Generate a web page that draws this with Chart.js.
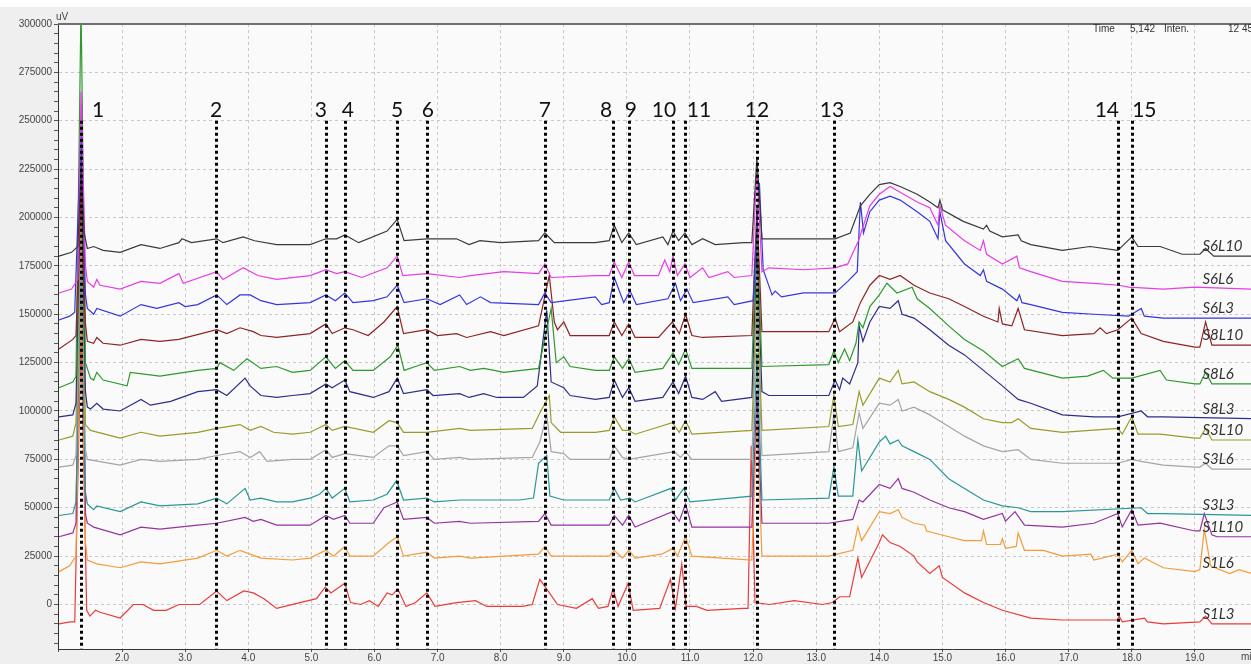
<!DOCTYPE html>
<html>
<head>
<meta charset="utf-8">
<script src="https://cdn.jsdelivr.net/npm/chart.js@4.4.1/dist/chart.umd.min.js"></script>
<style>
  html, body { margin: 0; padding: 0; background: #efefef; }
  #wrap { width: 1251px; height: 664px; }
</style>
</head>
<body>
<div id="wrap"><canvas id="grafica" width="1251" height="664"></canvas></div>
<script>
// ==============================
// DATA (time in min, signal in kuV)
// ==============================
const s6l10 = [[1.0,180],[1.2,182],[1.3,185],[1.35,225],[1.4,192],[1.45,184],[1.55,185],[1.7,183],[1.97,182],[2.3,186],[2.6,184],[2.9,187],[2.95,189],[3.1,187],[3.5,189],[3.6,187],[3.92,190],[4.1,188],[4.45,186],[4.98,186],[5.23,189],[5.4,189],[5.53,191],[5.75,187],[6.2,193],[6.36,199],[6.47,188],[6.83,189],[7.3,189],[7.5,186],[7.67,188],[8.0,187],[8.6,188],[8.7,192],[8.85,187],[9.26,187],[9.5,187],[9.72,188],[9.8,196],[9.92,187],[10.03,192],[10.15,186],[10.57,190],[10.65,186],[10.73,193],[10.82,188],[10.92,192],[11.03,186],[11.2,189],[11.4,186],[11.85,187],[11.98,187],[12.06,231],[12.14,189],[12.5,189],[13.0,189],[13.3,189],[13.54,192],[13.7,206],[13.85,212],[14.0,217],[14.17,218],[14.33,216],[14.6,212],[14.8,208],[14.93,205],[14.96,209],[15.0,204],[15.33,198],[15.65,194],[15.7,196],[15.75,193],[15.95,190],[16.2,191],[16.25,188],[16.4,186],[16.9,183],[17.34,185],[17.78,183],[18.0,190],[18.1,185],[18.45,185],[18.8,181],[19.08,181],[19.17,184],[19.3,180],[19.9,180]];
const s6l6 = [[1.0,161],[1.2,163],[1.3,168],[1.35,265],[1.42,175],[1.45,167],[1.55,164],[1.6,168],[1.65,165],[1.97,163],[2.3,167],[2.6,166],[2.9,171],[2.97,166],[3.5,172],[3.6,168],[3.92,174],[4.15,170],[4.45,168],[4.98,170],[5.23,173],[5.4,171],[5.53,172],[5.8,169],[6.2,174],[6.36,180],[6.45,170],[6.83,171],[7.35,169],[7.52,170],[8.05,172],[8.6,171],[8.7,176],[8.8,169],[9.5,170],[9.72,170],[9.8,177],[9.92,169],[10.03,177],[10.12,170],[10.5,170],[10.6,178],[10.68,172],[10.73,180],[10.8,170],[10.92,176],[11.0,169],[11.2,174],[11.3,169],[11.6,172],[11.7,169],[11.98,170],[12.06,225],[12.14,172],[12.25,174],[12.8,173],[13.3,174],[13.5,176],[13.67,188],[13.85,206],[14.0,212],[14.17,216],[14.33,213],[14.6,208],[14.8,205],[14.93,196],[14.96,206],[15.05,196],[15.35,188],[15.6,183],[15.65,188],[15.7,181],[15.95,176],[16.18,180],[16.22,174],[16.4,172],[16.9,167],[17.4,166],[17.8,165],[17.95,164],[18.5,163],[19.0,164],[19.9,163]];
const s6l3 = [[1.0,147],[1.17,149],[1.25,151],[1.35,248],[1.42,160],[1.45,153],[1.55,150],[1.6,153],[1.97,149],[2.3,155],[2.55,153],[2.9,156],[3.0,154],[3.2,155],[3.5,160],[3.66,155],[3.87,160],[4.03,160],[4.2,157],[4.45,155],[4.98,156],[5.23,160],[5.38,157],[5.53,161],[5.66,156],[5.98,157],[6.2,159],[6.36,165],[6.47,156],[6.83,158],[7.04,155],[7.35,160],[7.46,155],[7.68,159],[7.84,156],[8.6,155],[8.7,161],[8.8,156],[9.5,159],[9.6,155],[9.72,156],[9.8,169],[9.95,156],[10.05,162],[10.15,155],[10.65,158],[10.77,166],[10.85,157],[10.95,163],[11.05,156],[11.6,159],[11.7,155],[12.0,157],[12.1,218],[12.16,173],[12.3,160],[12.35,162],[12.45,159],[12.8,161],[13.3,161],[13.5,167],[13.65,172],[13.7,208],[13.75,192],[13.85,203],[14.0,209],[14.17,211],[14.33,209],[14.6,203],[14.8,198],[14.93,189],[14.96,203],[15.05,188],[15.35,176],[15.6,170],[15.65,173],[15.7,167],[15.95,163],[16.18,157],[16.22,160],[16.26,156],[16.4,155],[16.9,151],[17.4,150],[17.95,149],[18.15,153],[18.2,149],[18.5,148],[19.9,148]];
const s8l10 = [[1.0,132],[1.22,137],[1.27,139],[1.35,215],[1.42,145],[1.45,136],[1.55,135],[1.6,138],[1.7,135],[1.97,134],[2.3,137],[2.6,136],[2.9,137],[3.5,142],[3.66,140],[3.87,143],[4.08,141],[4.2,139],[4.45,138],[4.98,140],[5.23,145],[5.33,140],[5.53,143],[5.66,142],[5.9,139],[6.15,146],[6.36,154],[6.46,140],[6.83,142],[7.0,139],[7.3,140],[7.46,138],[7.84,141],[8.05,139],[8.6,144],[8.77,170],[8.85,146],[8.9,142],[9.0,146],[9.1,139],[9.5,139],[9.72,139],[9.8,146],[9.92,139],[10.03,145],[10.13,138],[10.5,138],[10.72,146],[10.83,140],[10.93,150],[11.03,139],[11.2,138],[11.98,139],[12.06,205],[12.14,141],[12.8,141],[13.2,141],[13.3,148],[13.37,141],[13.58,146],[13.7,156],[13.85,165],[14.0,170],[14.17,168],[14.33,170],[14.55,165],[14.8,161],[15.1,158],[15.35,154],[15.65,149],[15.88,146],[15.9,153],[15.95,145],[16.1,144],[16.2,153],[16.3,142],[16.9,139],[17.4,140],[17.5,143],[17.6,140],[17.78,142],[18.0,148],[18.15,140],[18.5,136],[19.0,133],[19.08,133],[19.17,146],[19.27,134],[19.9,134]];
const s8l6 = [[1.0,112],[1.22,115],[1.27,118],[1.35,310],[1.42,125],[1.5,117],[1.55,116],[1.6,120],[1.7,116],[2.08,113],[2.13,120],[2.6,118],[3.2,121],[3.5,122],[3.55,125],[3.77,121],[3.98,127],[4.2,122],[4.45,123],[4.7,120],[4.98,121],[5.23,128],[5.38,122],[5.53,126],[5.66,121],[5.98,121],[6.25,128],[6.37,134],[6.47,121],[6.65,123],[6.83,125],[6.95,121],[7.35,123],[7.52,121],[7.73,122],[7.9,121],[8.05,120],[8.6,122],[8.8,153],[8.88,125],[9.0,128],[9.1,123],[9.5,121],[9.72,121],[9.8,128],[9.93,122],[10.03,127],[10.13,120],[10.57,122],[10.73,130],[10.82,124],[10.93,132],[11.03,122],[11.75,122],[11.98,122],[12.06,195],[12.14,123],[13.2,124],[13.28,131],[13.35,125],[13.45,132],[13.53,126],[13.63,135],[13.68,146],[13.74,143],[13.85,154],[14.0,160],[14.12,166],[14.28,161],[14.52,164],[14.6,158],[14.8,153],[15.1,144],[15.35,137],[15.65,131],[15.95,123],[16.2,127],[16.3,122],[16.9,117],[17.3,118],[17.55,121],[17.7,117],[18.0,117],[18.45,121],[18.55,116],[19.0,114],[19.08,114],[19.17,120],[19.27,114],[19.9,114]];
const s8l3 = [[1.0,97],[1.22,98],[1.27,104],[1.35,235],[1.42,110],[1.45,102],[1.5,101],[1.6,104],[1.7,101],[1.97,100],[2.3,106],[2.45,103],[2.77,105],[3.2,110],[3.5,111],[3.66,108],[3.95,117],[4.03,113],[4.2,108],[4.45,107],[4.7,108],[4.98,109],[5.23,114],[5.33,112],[5.53,116],[5.61,110],[5.98,107],[6.23,110],[6.36,117],[6.46,109],[6.83,111],[6.93,108],[7.35,109],[7.5,107],[7.73,109],[7.94,107],[8.36,107],[8.58,113],[8.73,152],[8.8,115],[9.0,112],[9.1,108],[9.5,106],[9.72,107],[9.8,116],[9.93,107],[10.03,112],[10.13,105],[10.57,107],[10.73,115],[10.82,109],[10.93,118],[11.03,107],[11.2,106],[11.4,110],[11.5,105],[11.98,107],[12.06,185],[12.14,110],[12.25,108],[13.2,108],[13.3,116],[13.37,111],[13.42,117],[13.53,114],[13.66,125],[13.68,144],[13.74,136],[13.85,146],[14.0,154],[14.17,153],[14.3,157],[14.36,150],[14.55,148],[14.8,142],[15.1,134],[15.35,129],[15.65,121],[15.95,113],[16.2,106],[16.4,104],[16.9,98],[17.4,97],[17.78,97],[18.15,100],[18.25,97],[18.5,97],[19.9,96]];
const s3l10 = [[1.0,85],[1.22,87],[1.27,94],[1.35,200],[1.42,93],[1.5,90],[1.97,86],[2.3,89],[2.6,87],[3.2,89],[3.5,91],[3.87,93],[4.03,90],[4.2,92],[4.4,89],[4.7,88],[4.98,89],[5.23,93],[5.33,90],[5.53,92],[5.98,89],[6.23,95],[6.36,94],[6.46,89],[6.83,89],[7.35,91],[7.52,90],[8.5,91],[8.62,99],[8.77,108],[8.8,94],[8.95,89],[9.5,89],[9.72,90],[9.8,97],[9.93,90],[10.03,90],[10.13,88],[10.72,94],[10.83,89],[10.93,95],[11.03,88],[11.98,90],[12.06,165],[12.14,90],[13.2,92],[13.28,108],[13.35,92],[13.58,93],[13.68,110],[13.74,103],[14.0,117],[14.17,115],[14.3,121],[14.36,114],[14.55,115],[14.8,110],[15.1,106],[15.35,102],[15.65,96],[15.95,94],[16.1,94],[16.2,96],[16.4,91],[16.9,89],[17.78,91],[17.85,88],[18.0,97],[18.1,88],[18.45,88],[19.0,86],[19.08,86],[19.17,91],[19.27,85],[19.9,85]];
const s3l6 = [[1.0,71],[1.22,72],[1.27,77],[1.35,190],[1.42,80],[1.45,75],[1.97,72],[2.3,75],[2.6,74],[3.2,75],[3.5,77],[3.87,79],[4.03,76],[4.18,79],[4.3,74],[4.7,75],[4.98,75],[5.23,80],[5.33,76],[5.53,78],[5.98,76],[6.23,82],[6.36,82],[6.46,77],[6.83,79],[6.95,75],[7.35,76],[7.52,75],[8.5,76],[8.62,84],[8.73,98],[8.8,79],[9.0,78],[9.1,75],[9.5,75],[9.72,75],[9.8,82],[9.93,76],[10.03,75],[10.75,79],[10.85,76],[10.93,79],[11.03,75],[11.98,75],[12.06,150],[12.14,77],[13.2,79],[13.28,98],[13.35,79],[13.58,81],[13.68,99],[13.74,91],[14.0,104],[14.17,103],[14.3,106],[14.36,100],[14.55,102],[14.8,98],[15.1,92],[15.35,87],[15.65,82],[15.95,79],[16.2,80],[16.4,75],[16.9,73],[17.78,73],[18.0,75],[18.15,74],[18.5,72],[19.0,71],[19.08,71],[19.17,73],[19.27,70],[19.9,70]];
const s3l3 = [[1.0,46],[1.22,47],[1.27,53],[1.35,180],[1.42,58],[1.45,52],[1.55,49],[1.6,51],[1.97,48],[2.3,53],[2.6,51],[3.2,52],[3.5,55],[3.66,52],[3.95,60],[4.03,54],[4.2,55],[4.45,53],[4.7,53],[4.98,55],[5.13,57],[5.23,60],[5.33,55],[5.53,60],[5.61,53],[5.98,54],[6.2,57],[6.35,64],[6.46,54],[6.83,55],[6.95,53],[7.35,54],[7.52,54],[8.3,54],[8.52,55],[8.6,73],[8.73,77],[8.78,56],[9.0,54],[9.5,54],[9.72,54],[9.8,60],[9.9,54],[10.05,55],[10.13,53],[10.7,60],[10.77,54],[10.9,60],[11.0,53],[11.98,56],[12.06,130],[12.14,54],[13.2,55],[13.28,71],[13.35,56],[13.58,56],[13.66,85],[13.72,69],[14.0,84],[14.1,87],[14.17,83],[14.3,85],[14.36,82],[14.55,79],[14.8,75],[15.1,65],[15.35,60],[15.65,54],[15.95,51],[16.2,50],[16.4,48],[16.9,48],[18.15,50],[18.25,47],[18.5,47],[19.9,46]];
const s1l10 = [[1.0,35],[1.22,37],[1.27,42],[1.35,240],[1.42,47],[1.45,42],[1.55,40],[1.97,36],[2.3,40],[2.6,39],[3.2,41],[3.5,42],[3.95,45],[4.08,43],[4.2,44],[4.45,41],[4.98,41],[5.23,46],[5.35,44],[5.53,46],[5.61,42],[5.98,42],[6.15,50],[6.36,53],[6.46,44],[6.83,45],[6.95,42],[7.35,43],[7.52,42],[8.6,43],[8.7,47],[8.8,41],[9.5,41],[9.72,41],[9.8,46],[9.93,41],[10.03,46],[10.13,40],[10.72,48],[10.83,43],[10.93,52],[11.03,40],[11.98,40],[12.06,110],[12.14,42],[13.2,42],[13.58,44],[13.68,54],[13.74,53],[14.0,62],[14.17,60],[14.3,65],[14.36,60],[14.55,58],[14.8,54],[15.1,50],[15.35,48],[15.65,44],[15.95,47],[16.0,43],[16.15,48],[16.3,41],[16.9,40],[17.4,42],[17.78,47],[17.85,40],[18.0,49],[18.1,41],[18.45,42],[19.0,38],[19.08,38],[19.15,47],[19.27,36],[19.35,35],[19.9,35]];
const s1l6 = [[1.0,17],[1.17,20],[1.27,25],[1.35,170],[1.42,32],[1.45,23],[1.6,21],[1.97,19],[2.3,22],[2.6,21],[3.2,24],[3.5,28],[3.66,25],[3.87,28],[4.2,24],[4.7,23],[4.98,24],[5.23,28],[5.35,25],[5.53,30],[5.61,25],[5.98,25],[6.23,32],[6.36,35],[6.46,25],[6.83,27],[6.95,24],[7.35,25],[7.52,24],[8.6,26],[8.7,30],[8.8,25],[9.5,25],[9.72,25],[9.8,28],[9.93,24],[10.03,28],[10.13,24],[10.55,26],[10.73,29],[10.8,25],[10.93,35],[11.03,25],[11.98,23],[12.06,95],[12.14,25],[13.2,25],[13.58,28],[13.66,40],[13.72,33],[14.0,48],[14.17,47],[14.3,49],[14.36,45],[14.55,42],[14.72,41],[14.75,38],[15.1,35],[15.35,33],[15.62,33],[15.65,38],[15.7,31],[15.92,31],[15.95,34],[16.0,29],[16.17,30],[16.2,37],[16.3,28],[16.6,28],[16.9,25],[17.35,26],[17.4,23],[17.78,26],[17.85,22],[18.0,28],[18.1,21],[18.2,24],[18.5,19],[19.0,17],[19.08,18],[19.15,39],[19.25,20],[19.55,16],[19.7,18],[19.9,16]];
const s1l3 = [[1.0,-10],[1.18,-9],[1.25,-9],[1.35,140],[1.44,-3],[1.49,-6],[1.58,-3],[1.65,-4],[1.97,-7],[2.18,0],[2.33,0],[2.5,-3],[2.7,-3],[2.9,0],[3.23,0],[3.5,7],[3.66,2],[3.93,7],[4.08,6],[4.25,3],[4.45,-2],[4.82,1],[5.08,3],[5.22,9],[5.31,6],[5.53,11],[5.62,1],[5.78,0],[5.92,2],[6.06,-1],[6.2,6],[6.28,5],[6.37,8],[6.5,-1],[6.65,1],[6.83,6],[6.96,-1],[7.3,1],[7.6,2],[7.78,-1],[8.0,-1],[8.35,-1],[8.5,0],[8.62,13],[8.75,7],[8.9,0],[9.2,-2],[9.45,3],[9.55,-2],[9.7,-1],[9.78,8],[9.86,-1],[10.02,11],[10.1,-3],[10.52,-2],[10.69,13],[10.77,-2],[10.87,21],[10.94,-1],[11.1,-1],[11.27,-3],[11.84,-2],[11.92,-2],[11.97,82],[12.03,1],[12.26,0],[12.65,2],[13.1,0],[13.26,1],[13.37,4],[13.53,4],[13.66,24],[13.72,14],[14.0,32],[14.05,36],[14.17,32],[14.33,30],[14.55,25],[14.6,22],[14.8,16],[14.95,20],[15.0,14],[15.35,6],[15.65,1],[15.95,-3],[16.4,-7],[16.9,-8],[17.78,-8],[17.8,-6],[17.85,-9],[18.2,-7],[18.25,-9],[18.5,-10],[19.08,-9],[19.17,-6],[19.27,-10],[19.9,-10]];

const seriesNames = ["S6L10","S6L6","S6L3","S8L10","S8L6","S8L3","S3L10","S3L6","S3L3","S1L10","S1L6","S1L3"];
const seriesData = [s6l10, s6l6, s6l3, s8l10, s8l6, s8l3, s3l10, s3l6, s3l3, s1l10, s1l6, s1l3];

// peaks marked with dotted lines
const peakTimes = [1.35, 3.49, 5.23, 5.53, 6.36, 6.83, 8.70, 9.78, 10.03, 10.73, 10.92, 12.06, 13.28, 17.78, 18.01];
const peakNames = ["1","2","3","4","5","6","7","8","9","10","11","12","13","14","15"];
const peakLineTop = 250; // kuV

// ==============================
// STYLES
// ==============================
const seriesColors = ["#3a3a3a","#e63de6","#3535df","#8c2424","#2f982f","#2d2d8a","#9a9a2c","#a5a5a5","#2b9696","#9533a0","#f29c3c","#e83c3c"];
const labelDx = [17, 0, -5, 3, 0, 1, 0, -7, 2, -9, 14, 0, -2, -11, 12];
const axisFont = { family: "'Liberation Sans', Arial, sans-serif", size: 10 };

// ==============================
// PLUGINS
// ==============================
const fondo = {
  id: "fondo",
  beforeDraw(chart) {
    const { ctx, chartArea: a, width, height } = chart;
    ctx.save();
    ctx.fillStyle = "#efefef";
    ctx.fillRect(0, 0, width, height);
    ctx.fillStyle = "#ffffff";
    ctx.fillRect(0, 0, width, 7);
    ctx.fillStyle = "#fafafa";
    ctx.fillRect(a.left, a.top, a.right - a.left, a.bottom - a.top);
    ctx.restore();
  }
};

const marcas = {
  id: "marcas",
  afterDatasetsDraw(chart) {
    const { ctx, chartArea: a, scales: { x, y } } = chart;
    ctx.save();

    // top frame
    ctx.strokeStyle = "#707070";
    ctx.lineWidth = 2;
    ctx.beginPath();
    ctx.moveTo(a.left, a.top);
    ctx.lineTo(a.right, a.top);
    ctx.stroke();

    // dotted peak lines + numbers
    const yTop = y.getPixelForValue(peakLineTop);
    ctx.strokeStyle = "#000";
    ctx.lineWidth = 3;
    ctx.setLineDash([3, 3]);
    peakTimes.forEach(t => {
      const px = Math.round(x.getPixelForValue(t)) + 0.5;
      ctx.beginPath();
      ctx.moveTo(px, yTop);
      ctx.lineTo(px, a.bottom);
      ctx.stroke();
    });
    ctx.setLineDash([]);
    ctx.fillStyle = "#111";
    ctx.font = "21px Lato, 'Open Sans', sans-serif";
    ctx.textAlign = "center";
    ctx.textBaseline = "middle";
    peakTimes.forEach((t, i) => {
      ctx.fillText(peakNames[i], x.getPixelForValue(t) + labelDx[i], yTop - 11);
    });

    // series names at right end
    ctx.font = "italic 15px Lato, 'Open Sans', sans-serif";
    ctx.fillStyle = "#333";
    ctx.textAlign = "left";
    ctx.textBaseline = "middle";
    seriesData.forEach((d, i) => {
      const last = d[d.length - 1];
      ctx.fillText(seriesNames[i], x.getPixelForValue(19.12), y.getPixelForValue(last[1]) - 10);
    });

    // header texts
    ctx.font = "10px 'Liberation Sans', Arial, sans-serif";
    ctx.fillStyle = "#333";
    ctx.textBaseline = "middle";
    ctx.fillText("Time", 1093, 29);
    ctx.fillText("5,142", 1130, 29);
    ctx.fillText("Inten.", 1164, 29);
    ctx.fillText("12 45", 1228, 29);
    ctx.fillStyle = "#444";
    ctx.fillText("uV", 56, 17);
    ctx.fillText("min", 1241, 657);
    ctx.restore();
  }
};

// ==============================
// CHART
// ==============================
const ctx = document.getElementById("grafica");

new Chart(ctx, {
  type: "line",
  data: {
    datasets: seriesData.map((d, i) => ({
      label: seriesNames[i],
      data: d.map(p => ({ x: p[0], y: p[1] })),
      borderColor: seriesColors[i],
      borderWidth: 1.2,
      pointRadius: 0,
      tension: 0,
      fill: false
    }))
  },
  options: {
    responsive: false,
    animation: false,
    layout: { padding: { top: 24, right: 0, left: 0, bottom: 0 } },
    plugins: { legend: { display: false }, tooltip: { enabled: false } },
    scales: {
      x: {
        type: "linear",
        min: 0.985,
        max: 19.89,
        afterFit: s => { s.height = 15; },
        ticks: {
          stepSize: 1,
          includeBounds: false,
          autoSkip: false,
          maxRotation: 0,
          padding: 0,
          color: "#444",
          font: axisFont,
          callback: v => (v < 1.5 ? "" : v.toFixed(1))
        },
        grid: {
          color: c => (c.tick && c.tick.value < 1.5 ? "rgba(0,0,0,0)" : "#c9c9c9"),
          tickLength: 3,
          tickColor: "#555"
        },
        border: { color: "#333", width: 1, dash: [3, 3] }
      },
      y: {
        min: -23,
        max: 300,
        afterFit: s => { s.width = 58; },
        ticks: {
          stepSize: 5,
          includeBounds: false,
          autoSkip: false,
          padding: 2,
          color: "#444",
          font: axisFont,
          callback: v => (Math.round(v) % 25 === 0 ? String(Math.round(v) * 1000) : "")
        },
        grid: {
          color: c => (c.tick && Math.round(c.tick.value) % 25 === 0 ? "#c9c9c9" : "rgba(0,0,0,0)"),
          tickLength: 4,
          tickColor: "#555"
        },
        border: { color: "#333", width: 1, dash: [3, 3] }
      }
    }
  },
  plugins: [fondo, marcas]
});
</script>
</body>
</html>
